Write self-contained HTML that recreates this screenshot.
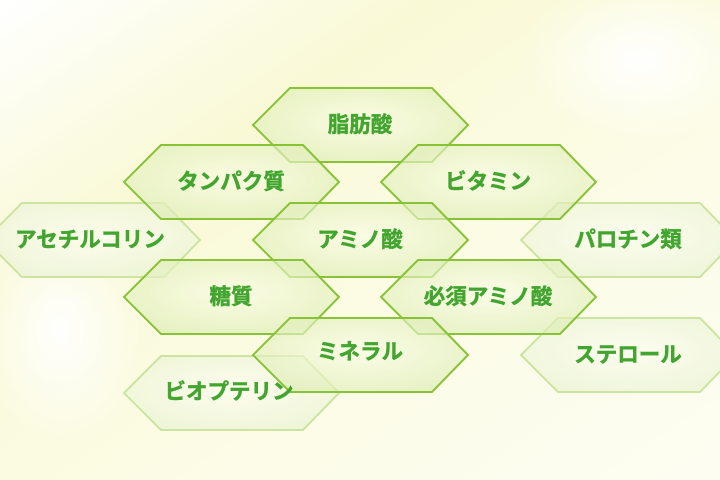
<!DOCTYPE html>
<html><head><meta charset="utf-8"><style>
html,body{margin:0;padding:0;width:720px;height:480px;overflow:hidden;}
svg{display:block}
text{font-family:"Liberation Sans","Noto Sans CJK JP",sans-serif;font-weight:bold;font-size:21.5px;fill:#42a52f;stroke:#42a52f;stroke-width:0.5;text-anchor:middle;dominant-baseline:central}
</style></head><body>
<svg width="720" height="480" viewBox="0 0 720 480" xmlns="http://www.w3.org/2000/svg">
<defs>
<linearGradient id="bg" x1="0" y1="0" x2="1" y2="1">
<stop offset="0" stop-color="#ffffff"/><stop offset="0.3" stop-color="#f9f9d6"/><stop offset="0.6" stop-color="#fcfce6"/><stop offset="1" stop-color="#fdfdf2"/>
</linearGradient>
<radialGradient id="glow" cx="0.5" cy="0.5" r="0.5">
<stop offset="0" stop-color="#ffffff" stop-opacity="0.95"/><stop offset="1" stop-color="#ffffff" stop-opacity="0"/>
</radialGradient>
<radialGradient id="hf" cx="0.5" cy="0.45" r="0.6">
<stop offset="0" stop-color="#fbfde6"/><stop offset="1" stop-color="#dbebb2"/>
</radialGradient>
<radialGradient id="hf2" cx="0.5" cy="0.45" r="0.6">
<stop offset="0" stop-color="#fdfdf0"/><stop offset="1" stop-color="#eaf3d4"/>
</radialGradient>
<polygon id="hx" points="-107,0 -70,-37 72,-37 108,0 72,37 -70,37"/>
</defs>
<rect width="720" height="480" fill="url(#bg)"/>
<ellipse cx="60" cy="330" rx="90" ry="120" fill="url(#glow)"/>
<ellipse cx="640" cy="60" rx="120" ry="80" fill="url(#glow)"/>
<g fill="url(#hf2)" fill-opacity="0.75" stroke="#cde4a0" stroke-width="2">
<use href="#hx" x="92" y="240"/>
<use href="#hx" x="628" y="240"/>
<use href="#hx" x="628" y="355"/>
<use href="#hx" x="231" y="393"/>
</g>
<g fill="url(#hf)" fill-opacity="0.65" stroke="#88c236" stroke-width="2">
<use href="#hx" x="360" y="125"/>
<use href="#hx" x="231" y="182"/>
<use href="#hx" x="488" y="182"/>
<use href="#hx" x="360" y="240"/>
<use href="#hx" x="231" y="297"/>
<use href="#hx" x="488" y="297"/>
<use href="#hx" x="360" y="355"/>
</g>
<text x="360" y="125">脂肪酸</text>
<text x="231" y="182">タンパク質</text>
<text x="488" y="182">ビタミン</text>
<text x="90" y="240">アセチルコリン</text>
<text x="360" y="240">アミノ酸</text>
<text x="628" y="240">パロチン類</text>
<text x="231" y="297">糖質</text>
<text x="488" y="297">必須アミノ酸</text>
<text x="360" y="352">ミネラル</text>
<text x="628" y="355">ステロール</text>
<text x="229" y="392">ビオプテリン</text>
</svg>
</body></html>
